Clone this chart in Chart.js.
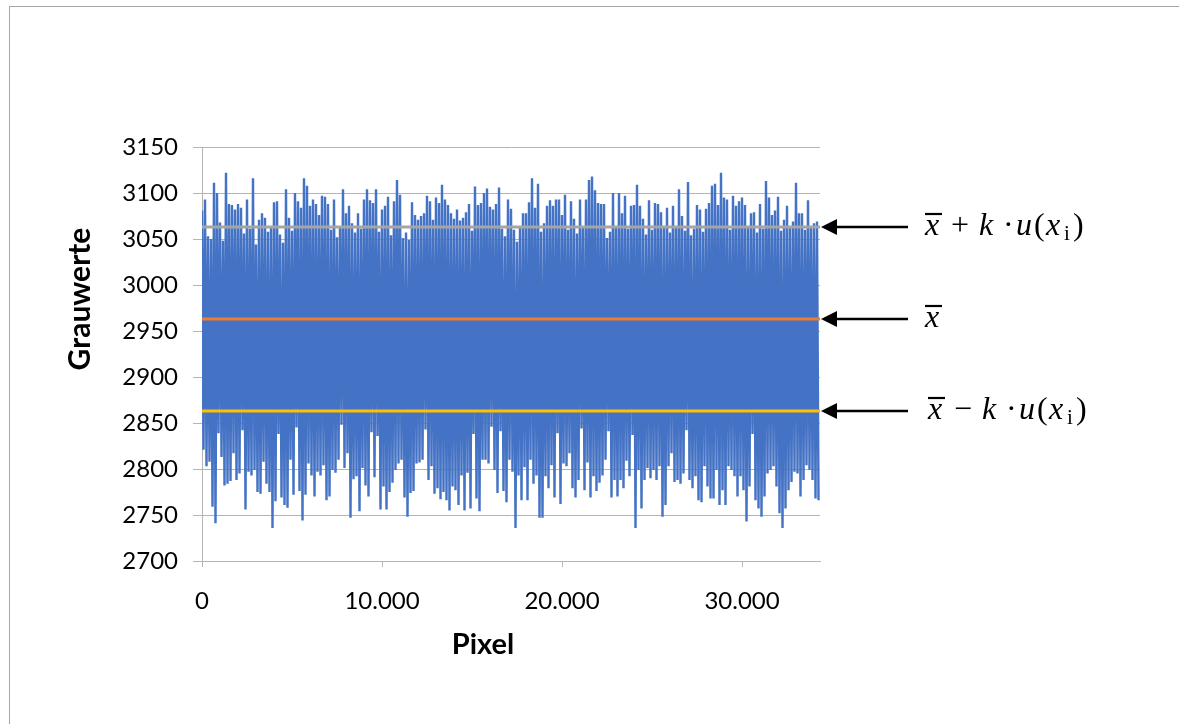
<!DOCTYPE html>
<html>
<head>
<meta charset="utf-8">
<script src="https://cdn.jsdelivr.net/npm/chart.js@4.4.1/dist/chart.umd.min.js"></script>
<style>
  html, body { margin: 0; padding: 0; background: #ffffff; overflow: hidden; }
  #wrap { position: relative; width: 1179px; height: 724px; }
  #frame { position: absolute; left: 9px; top: 6px; width: 1300px; height: 900px;
           border-left: 1px solid #a6a6a6; border-top: 1px solid #a6a6a6; pointer-events: none; }
  canvas { position: absolute; left: 0; top: 0; }
</style>
</head>
<body>
<div id="wrap">
  <canvas id="c" width="1179" height="724"></canvas>
  <div id="frame"></div>
</div>
<script>
// ---- data ----
const totalPixels = 34330;
const yTicksMin = 2700, yTicksMax = 3150, yStep = 50;
const xTickValues = [0, 10000, 20000, 30000];
const xTitle = 'Pixel';
const yTitle = 'Grauwerte';
const meanValue = 2963;
const upperLimit = 3063;   // x̄ + k·u(xi)
const lowerLimit = 2863;   // x̄ − k·u(xi)

// per-bin maximum grey value (206 bins along the pixel axis)
const binMax = [
3081,3093,3053,3050,3111,3100,3068,3048,3122,3088,3087,3082,3088,3084,3056,3093,3061,3116,3044,3071,
3078,3073,3058,3062,3090,3091,3055,3046,3104,3073,3059,3100,3091,3084,3116,3108,3086,3093,3088,3076,
3097,3096,3088,3060,3093,3052,3063,3104,3078,3086,3067,3057,3078,3061,3093,3104,3092,3089,3104,3058,
3082,3086,3096,3054,3091,3114,3098,3051,3057,3049,3090,3076,3071,3075,3078,3097,3091,3071,3095,3089,
3109,3093,3087,3078,3072,3082,3070,3073,3079,3088,3059,3107,3087,3089,3100,3105,3085,3082,3088,3106,
3061,3053,3093,3083,3060,3047,3062,3078,3078,3090,3116,3084,3110,3058,3067,3086,3092,3086,3093,3093,
3076,3098,3060,3091,3072,3056,3093,3062,3093,3114,3118,3103,3089,3088,3088,3051,3058,3100,3063,3100,
3078,3097,3061,3086,3087,3109,3086,3072,3055,3092,3060,3089,3088,3079,3062,3084,3057,3086,3063,3104,
3075,3059,3112,3054,3061,3087,3082,3058,3083,3089,3108,3110,3087,3122,3095,3093,3060,3097,3086,3091,
3095,3087,3062,3078,3079,3057,3088,3061,3113,3095,3076,3081,3096,3059,3071,3086,3062,3069,3111,3078,
3078,3060,3092,3063,3067,3069
];
// per-bin minimum grey value
const binMin = [
2821,2803,2808,2759,2741,2839,2813,2782,2784,2787,2817,2788,2795,2842,2756,2797,2793,2799,2775,2773,
2808,2784,2775,2736,2765,2838,2769,2761,2758,2810,2772,2845,2776,2744,2772,2806,2793,2770,2797,2793,
2804,2766,2770,2799,2796,2810,2848,2801,2817,2747,2789,2792,2754,2801,2782,2770,2840,2791,2836,2756,
2781,2756,2775,2785,2799,2806,2810,2769,2748,2774,2776,2806,2807,2810,2843,2788,2803,2773,2779,2767,
2775,2766,2755,2781,2777,2761,2793,2755,2796,2757,2838,2768,2754,2810,2810,2806,2846,2799,2774,2841,
2776,2764,2810,2797,2736,2793,2766,2802,2766,2810,2784,2793,2747,2747,2792,2779,2804,2769,2839,2762,
2806,2803,2817,2779,2769,2788,2844,2777,2807,2769,2792,2776,2785,2793,2810,2841,2769,2788,2770,2788,
2779,2809,2792,2837,2736,2799,2757,2788,2801,2790,2799,2788,2803,2748,2761,2803,2817,2786,2788,2784,
2795,2842,2788,2779,2792,2766,2764,2803,2781,2768,2768,2799,2761,2777,2761,2803,2799,2792,2770,2792,
2777,2743,2781,2838,2766,2757,2748,2770,2795,2799,2803,2781,2752,2736,2757,2777,2786,2797,2795,2770,
2788,2804,2799,2788,2768,2766
];

// ---- build the library's data from the arrays ----
const binWidth = totalPixels / binMax.length;
const signal = [];
for (let i = 0; i < binMax.length; i++) {
  signal.push({ x: i * binWidth, y: binMax[i] });
  signal.push({ x: (i + 0.5) * binWidth, y: binMin[i] });
}
const hline = v => [{ x: 0, y: v }, { x: totalPixels, y: v }];

function fmtDE(v) {
  return String(Math.round(v)).replace(/\B(?=(\d{3})+(?!\d))/g, '.');
}

const annotations = [
  { value: upperLimit, op: '+' },
  { value: meanValue, op: null },
  { value: lowerLimit, op: '\u2212' }
];

const FONT = 'Lato, "Liberation Sans", sans-serif';

const extrasPlugin = {
  id: 'extras',
  afterDraw(chart) {
    const ctx = chart.ctx;
    const ys = chart.scales.y;
    const ca = chart.chartArea;
    const right = ca.right;
    ctx.save();

    // axis titles
    ctx.fillStyle = '#000';
    ctx.font = 'bold 30px ' + FONT;
    ctx.textAlign = 'center';
    ctx.textBaseline = 'middle';
    ctx.save();
    ctx.translate(ca.left - 122, ca.top + 152);
    ctx.rotate(-Math.PI / 2);
    ctx.fillText(yTitle, 0, 0);
    ctx.restore();
    ctx.font = 'bold 29px ' + FONT;
    ctx.fillText(xTitle, ca.left + 281, ca.bottom + 84);

    annotations.forEach(a => {
      const y = Math.round(ys.getPixelForValue(a.value));
      const tip = right + 1;
      const tail = right + 88;
      ctx.strokeStyle = '#000';
      ctx.fillStyle = '#000';
      ctx.lineWidth = 2.5;
      ctx.beginPath();
      ctx.moveTo(tip + 12, y);
      ctx.lineTo(tail, y);
      ctx.stroke();
      ctx.beginPath();
      ctx.moveTo(tip, y);
      ctx.lineTo(tip + 16, y - 8);
      ctx.lineTo(tip + 16, y + 8);
      ctx.closePath();
      ctx.fill();

      // math label
      const x0 = right + 104 + (a.op === '\u2212' ? 3 : 0);
      const base = y + 8;
      const itF = 'italic 32px "Liberation Serif", "DejaVu Serif", serif';
      const upF = '32px "Liberation Serif", "DejaVu Serif", serif';
      const subF = '21px "Liberation Serif", "DejaVu Serif", serif';
      ctx.textAlign = 'left';
      ctx.textBaseline = 'alphabetic';
      ctx.font = itF;
      ctx.fillText('x', x0 + 1, base);
      ctx.lineWidth = 2.2;
      ctx.beginPath();
      ctx.moveTo(x0 + 1, base - 21);
      ctx.lineTo(x0 + 18, base - 21);
      ctx.stroke();
      if (a.op) {
        ctx.font = upF;
        ctx.fillText(a.op, x0 + 27, base);
        ctx.font = itF;
        ctx.fillText('k', x0 + 55, base);
        ctx.font = upF;
        ctx.fillText('\u00B7', x0 + 79, base);
        ctx.font = itF;
        ctx.fillText('u', x0 + 92, base);
        ctx.font = upF;
        ctx.fillText('(', x0 + 110, base);
        ctx.font = itF;
        ctx.fillText('x', x0 + 122, base);
        ctx.font = subF;
        ctx.fillText('i', x0 + 140, base + 5);
        ctx.font = upF;
        ctx.fillText(')', x0 + 149, base);
      }
    });
    ctx.restore();
  }
};

const gridColor = '#b4b4b4';

new Chart(document.getElementById('c'), {
  type: 'line',
  data: {
    datasets: [
      { label: 'x̄ + k·u(xi)', data: hline(upperLimit), borderColor: '#a5a5a5', borderWidth: 3, pointRadius: 0, order: 1 },
      { label: 'x̄', data: hline(meanValue), borderColor: '#ed7d31', borderWidth: 3, pointRadius: 0, order: 1 },
      { label: 'x̄ − k·u(xi)', data: hline(lowerLimit), borderColor: '#ffc000', borderWidth: 3, pointRadius: 0, order: 1 },
      { label: 'Grauwerte', data: signal, borderColor: '#4472c4', borderWidth: 2.4, borderJoinStyle: 'bevel',
        pointRadius: 0, tension: 0, order: 10 }
    ]
  },
  options: {
    responsive: false,
    devicePixelRatio: 1,
    animation: false,
    events: [],
    layout: { padding: { left: 59, top: 147, right: 359, bottom: 59 } },
    plugins: { legend: { display: false }, tooltip: { enabled: false } },
    scales: {
      x: {
        type: 'linear',
        min: 0,
        max: totalPixels,
        afterFit(s) { s.height = 104; },
        afterBuildTicks(s) { s.ticks = xTickValues.map(v => ({ value: v })); },
        border: { display: true, color: gridColor },
        grid: { display: true, drawOnChartArea: false, drawTicks: true, tickLength: 6, color: gridColor },
        ticks: {
          autoSkip: false,
          maxRotation: 0,
          padding: 20,
          color: '#000',
          font: { family: FONT, size: 24 },
          callback: v => fmtDE(v)
        },
        title: { display: false }
      },
      y: {
        type: 'linear',
        min: yTicksMin,
        max: yTicksMax,
        afterFit(s) { s.width = 143; },
        border: { display: true, color: gridColor },
        grid: { color: gridColor, drawTicks: true, tickLength: 9 },
        ticks: {
          stepSize: yStep,
          padding: 15,
          color: '#000',
          font: { family: FONT, size: 24 },
          callback: v => String(v)
        },
        title: { display: false }
      }
    }
  },
  plugins: [extrasPlugin]
});
</script>
</body>
</html>
